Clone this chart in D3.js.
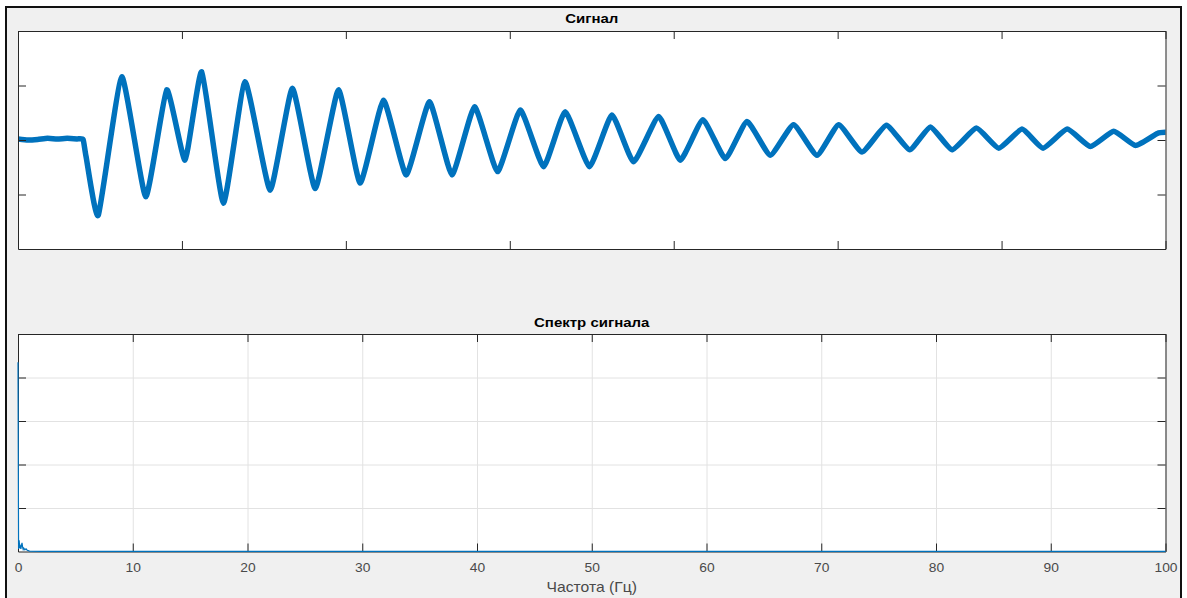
<!DOCTYPE html>
<html><head><meta charset="utf-8">
<script src="https://cdn.jsdelivr.net/npm/d3@7"></script>
<style>
html,body{margin:0;padding:0;background:#fff;}
svg{display:block;font-family:"Liberation Sans",Arial,sans-serif;}
</style></head>
<body>
<svg id="fig" width="1187" height="598"></svg>
<script>
// ---- data ----
const signalTitle = "Сигнал";
const spectrumTitle = "Спектр сигнала";
const freqLabel = "Частота (Гц)";

// signal: time (s) and amplitude at extrema / key points
const sigT = [0, 0.6, 1.2, 1.8, 2.4, 3.0, 3.6, 3.97, 4.15, 4.9, 6.33, 7.79, 9.07, 10.19, 11.21, 12.53, 13.85, 15.38, 16.74,
  18.13, 19.55, 20.87, 22.29, 23.68, 25.10, 26.47, 27.85, 29.25, 30.64, 32.06, 33.38, 34.86, 36.23, 37.55, 39.08,
  40.40, 41.78, 43.15, 44.47, 45.89, 47.31, 48.74, 50.06, 51.49, 52.97, 54.39, 55.66, 56.98, 58.46, 59.83, 61.25,
  62.53, 64.00, 65.42, 66.84, 68.17, 69.5, 70];
const sigV = [0.02, 0.0, 0.01, 0.03, 0.02, 0.03, 0.02, 0.01, -0.3, -1.38, 1.16, -1.04, 0.92, -0.37, 1.25, -1.16, 1.07, -0.92, 0.95,
  -0.89, 0.92, -0.79, 0.73, -0.64, 0.70, -0.64, 0.61, -0.58, 0.55, -0.49, 0.52, -0.49, 0.46, -0.40, 0.43,
  -0.37, 0.37, -0.34, 0.34, -0.28, 0.28, -0.28, 0.28, -0.22, 0.27, -0.18, 0.24, -0.18, 0.22, -0.15, 0.20,
  -0.15, 0.20, -0.12, 0.16, -0.10, 0.12, 0.14];

// spectrum: frequency (Hz) and magnitude
const specF = [0, 0.05, 0.1, 0.15, 0.2, 0.25, 0.3, 0.35, 0.4, 0.45, 0.5, 0.6, 0.7, 0.8, 0.9, 1.0, 2, 5, 10, 20, 30, 40, 50, 60, 70, 80, 90, 100];
const specA = [4.35, 0.06, 0.26, 0.08, 0.12, 0.06, 0.14, 0.2, 0.1, 0.05, 0.08, 0.04, 0.06, 0.03, 0.02, 0.01, 0.005, 0.003, 0.002, 0.002, 0.001, 0.001, 0.001, 0.001, 0.001, 0.001, 0.001, 0.001];

const timeTicks = [0, 10, 20, 30, 40, 50, 60, 70];
const sigYTicks = [-1, 0, 1];
const freqTicks = [0, 10, 20, 30, 40, 50, 60, 70, 80, 90, 100];
const specYTicks = [1, 2, 3, 4];

// ---- layout ----
const svg = d3.select("#fig");
const lineColor = "#0072BD";
const axisColor = "#262626";
const gridColor = "#e2e2e2";
const TL = 8;   // tick length (pixels, inward)

svg.append("rect").attr("x", 6).attr("y", 7).attr("width", 1175).attr("height", 600)
  .attr("fill", "#f0f0f0").attr("stroke", "#111").attr("stroke-width", 2);

const pTop = {l: 18, r: 1165.5, t: 31, b: 249};
const pBot = {l: 18, r: 1165.5, t: 334, b: 551.5};

const xT = d3.scaleLinear().domain([0, 70]).range([pTop.l, pTop.r]);
const yT = d3.scaleLinear().domain([-2, 2]).range([pTop.b, pTop.t]);
const xF = d3.scaleLinear().domain([0, 100]).range([pBot.l, pBot.r]);
const yF = d3.scaleLinear().domain([0, 5]).range([pBot.b, pBot.t]);

function styleAxis(g) {
  g.selectAll("path.domain").attr("stroke", axisColor).attr("stroke-width", 1);
  g.selectAll(".tick line").attr("stroke", axisColor).attr("stroke-width", 1);
}

// ---- top plot ----
svg.append("rect").attr("x", pTop.l).attr("y", pTop.t).attr("width", pTop.r - pTop.l).attr("height", pTop.b - pTop.t).attr("fill", "#fff");

svg.append("defs").append("clipPath").attr("id", "clipTop")
  .append("rect").attr("x", pTop.l).attr("y", pTop.t).attr("width", pTop.r - pTop.l).attr("height", pTop.b - pTop.t);

const sigData = sigT.map((t, i) => [t, sigV[i]]);
svg.append("path").datum(sigData)
  .attr("clip-path", "url(#clipTop)")
  .attr("fill", "none").attr("stroke", lineColor).attr("stroke-width", 5.5)
  .attr("stroke-linejoin", "round").attr("stroke-linecap", "round")
  .attr("d", d3.line().x(d => xT(d[0])).y(d => yT(d[1])).curve(d3.curveCardinal.tension(0.55)));

svg.append("g").attr("transform", `translate(0,${pTop.b})`)
  .call(d3.axisBottom(xT).tickValues(timeTicks).tickSizeInner(-TL).tickSizeOuter(0).tickFormat("")).call(styleAxis);
svg.append("g").attr("transform", `translate(0,${pTop.t})`)
  .call(d3.axisTop(xT).tickValues(timeTicks).tickSizeInner(-TL).tickSizeOuter(0).tickFormat("")).call(styleAxis);
svg.append("g").attr("transform", `translate(${pTop.l},0)`)
  .call(d3.axisLeft(yT).tickValues(sigYTicks).tickSizeInner(-TL).tickSizeOuter(0).tickFormat("")).call(styleAxis);
svg.append("g").attr("transform", `translate(${pTop.r},0)`)
  .call(d3.axisRight(yT).tickValues(sigYTicks).tickSizeInner(-TL).tickSizeOuter(0).tickFormat("")).call(styleAxis);

svg.append("text").text(signalTitle)
  .attr("transform", `translate(${(pTop.l + pTop.r) / 2},${pTop.t - 8}) scale(1.2,1)`)
  .attr("text-anchor", "middle").attr("font-weight", "bold").attr("font-size", 12.5).attr("fill", "#000");

// ---- bottom plot ----
svg.append("rect").attr("x", pBot.l).attr("y", pBot.t).attr("width", pBot.r - pBot.l).attr("height", pBot.b - pBot.t).attr("fill", "#fff");

// grid
svg.append("g").attr("transform", `translate(0,${pBot.b})`)
  .call(d3.axisBottom(xF).tickValues(freqTicks).tickSize(-(pBot.b - pBot.t)).tickFormat(""))
  .call(g => { g.select(".domain").remove(); g.selectAll("line").attr("stroke", gridColor); });
svg.append("g").attr("transform", `translate(${pBot.l},0)`)
  .call(d3.axisLeft(yF).tickValues(specYTicks).tickSize(-(pBot.r - pBot.l)).tickFormat(""))
  .call(g => { g.select(".domain").remove(); g.selectAll("line").attr("stroke", gridColor); });

const xAxB = svg.append("g").attr("transform", `translate(0,${pBot.b})`)
  .call(d3.axisBottom(xF).tickValues(freqTicks).tickSizeInner(-TL).tickSizeOuter(0).tickFormat(d3.format("d"))).call(styleAxis);
xAxB.selectAll(".tick text").attr("y", 12).attr("dy", "0.71em").attr("font-size", 12)
  .attr("font-family", "Liberation Sans, Arial, sans-serif").attr("fill", "#4a4a4a")
  .attr("transform", "scale(1.15,1)");
svg.append("g").attr("transform", `translate(0,${pBot.t})`)
  .call(d3.axisTop(xF).tickValues(freqTicks).tickSizeInner(-TL).tickSizeOuter(0).tickFormat("")).call(styleAxis);
svg.append("g").attr("transform", `translate(${pBot.l},0)`)
  .call(d3.axisLeft(yF).tickValues(specYTicks).tickSizeInner(-TL).tickSizeOuter(0).tickFormat("")).call(styleAxis);
svg.append("g").attr("transform", `translate(${pBot.r},0)`)
  .call(d3.axisRight(yF).tickValues(specYTicks).tickSizeInner(-TL).tickSizeOuter(0).tickFormat("")).call(styleAxis);

const specData = specF.map((f, i) => [f, specA[i]]);
svg.append("path").datum(specData)
  .attr("fill", "none").attr("stroke", lineColor).attr("stroke-width", 1.2)
  .attr("d", d3.line().x(d => xF(d[0])).y(d => yF(d[1])));

svg.append("text").text(spectrumTitle)
  .attr("transform", `translate(${(pBot.l + pBot.r) / 2},${pBot.t - 7}) scale(1.2,1)`)
  .attr("text-anchor", "middle").attr("font-weight", "bold").attr("font-size", 12.5).attr("fill", "#000");

svg.append("text").text(freqLabel)
  .attr("transform", `translate(${(pBot.l + pBot.r) / 2},${pBot.b + 40}) scale(1.12,1)`)
  .attr("text-anchor", "middle").attr("font-size", 14).attr("fill", "#4a4a4a");
</script>
</body></html>
